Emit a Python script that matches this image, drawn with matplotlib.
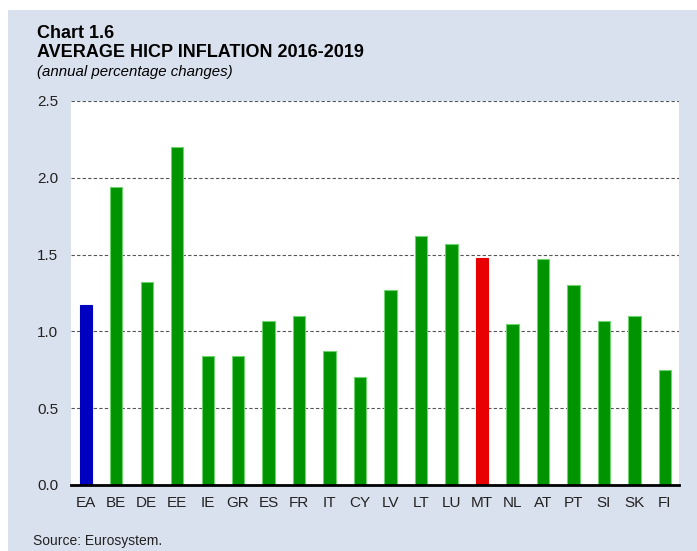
import matplotlib.pyplot as plt
from matplotlib.patches import Rectangle

plt.rcParams['font.family'] = ['Liberation Sans', 'DejaVu Sans']

# 数据
countries = ["EA", "BE", "DE", "EE", "IE", "GR", "ES", "FR", "IT", "CY",
             "LV", "LT", "LU", "MT", "NL", "AT", "PT", "SI", "SK", "FI"]
inflation = [1.17, 1.94, 1.32, 2.20, 0.84, 0.84, 1.07, 1.10, 0.87, 0.70,
             1.27, 1.62, 1.57, 1.48, 1.05, 1.47, 1.30, 1.07, 1.10, 0.75]
yticks = [0.0, 0.5, 1.0, 1.5, 2.0, 2.5]

GREEN = '#009400'
colors = []
for c in countries:
    if c == "EA":
        colors.append('#0000c0')
    elif c == "MT":
        colors.append('#e80000')
    else:
        colors.append(GREEN)
edges = ['#6fd36f' if col == GREEN else col for col in colors]

fig = plt.figure(figsize=(6.97, 5.51), dpi=100)
fig.patch.set_facecolor('white')
fig.patches.append(Rectangle((8 / 697, 0), 1, 1 - 10 / 551, transform=fig.transFigure,
                             facecolor='#dae1ee', edgecolor='none', zorder=-1))

ax = fig.add_axes([71 / 697, 1 - 485 / 551, 608 / 697, 384 / 551])
ax.set_zorder(2)
ax.set_facecolor('white')
x = range(len(countries))
ax.bar(x, inflation, width=0.40, color=colors, edgecolor=edges, linewidth=0.8, zorder=3)

ax.set_xlim(-0.48, len(countries) - 1 + 0.46)
ax.set_ylim(0, 2.5)
ax.set_yticks(yticks)
ax.set_yticklabels([f"{v:.1f}" for v in yticks])
ax.set_xticks(list(x))
ax.set_xticklabels(countries)
ax.tick_params(axis='both', length=0, labelsize=11, colors='#222222')
ax.tick_params(axis='y', pad=9)
ax.tick_params(axis='x', pad=8)

for v in yticks[1:]:
    ax.axhline(v, color='#555555', lw=0.8, ls=(0, (3, 2)), zorder=1)

for s in ['top', 'right', 'left']:
    ax.spines[s].set_visible(False)
ax.spines['bottom'].set_linewidth(2)
ax.spines['bottom'].set_color('black')
ax.spines['bottom'].set_zorder(5)

fig.text(37 / 697, 1 - 37.5 / 551, "Chart 1.6", fontsize=13, fontweight='bold')
fig.text(37 / 697, 1 - 57 / 551, "AVERAGE HICP INFLATION 2016-2019", fontsize=13, fontweight='bold')
fig.text(37 / 697, 1 - 76 / 551, "(annual percentage changes)", fontsize=10.8, style='italic')
fig.text(33 / 697, 1 - 545 / 551, "Source: Eurosystem.", fontsize=10, color='#222222')

fig.savefig("out.png", dpi=100)
